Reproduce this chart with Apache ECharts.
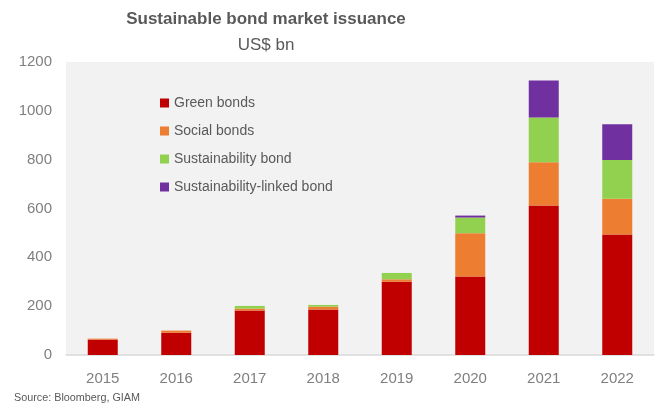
<!DOCTYPE html>
<html>
<head>
<meta charset="utf-8">
<script src="https://cdn.jsdelivr.net/npm/echarts@6/dist/echarts.min.js"></script>
<style>
  html, body { margin: 0; padding: 0; background: #ffffff; }
  #chart { width: 661px; height: 410px; }
</style>
</head>
<body>
<div id="chart"></div>
<script>
// Issuance by year, US$ bn
const years = ['2015', '2016', '2017', '2018', '2019', '2020', '2021', '2022'];
const greenBonds = [63, 91, 182, 186, 300, 321, 612, 494];
const socialBonds = [4, 9, 8, 12, 10, 178, 177, 146];
const sustainabilityBonds = [0, 0, 11, 7, 26, 64, 184, 159];
const linkedBonds = [0, 0, 0, 0, 0, 8, 151, 146];
const yTicks = [0, 200, 400, 600, 800, 1000, 1200];

const seriesDefs = [
  { name: 'Green bonds', data: greenBonds, color: '#c00000' },
  { name: 'Social bonds', data: socialBonds, color: '#ed7d31' },
  { name: 'Sustainability bond', data: sustainabilityBonds, color: '#92d050' },
  { name: 'Sustainability-linked bond', data: linkedBonds, color: '#7030a0' }
];

const FONT = '"Liberation Sans", Arial, sans-serif';
const chart = echarts.init(document.getElementById('chart'), null, { renderer: 'canvas' });

chart.setOption({
  animation: false,
  backgroundColor: '#ffffff',
  textStyle: { fontFamily: FONT },
  grid: {
    left: 66, right: 7, top: 62, bottom: 55,
    show: true, backgroundColor: '#f2f2f2', borderWidth: 0
  },
  graphic: [
    {
      type: 'text', x: 266, y: 11,
      style: {
        text: 'Sustainable bond market issuance',
        font: 'bold 17px ' + FONT, fill: '#595959',
        textAlign: 'center', textVerticalAlign: 'top'
      }
    },
    {
      type: 'text', x: 266, y: 37,
      style: {
        text: 'US$ bn', font: '17px ' + FONT, fill: '#595959',
        textAlign: 'center', textVerticalAlign: 'top'
      }
    },
    {
      type: 'text', x: 14, y: 393,
      style: { text: 'Source: Bloomberg, GIAM', font: '10.8px ' + FONT, fill: '#595959' }
    }
  ],
  legend: {
    orient: 'vertical',
    left: 155, top: 91,
    itemWidth: 9, itemHeight: 9, itemGap: 14,
    icon: 'rect',
    textStyle: { fontSize: 14, color: '#595959', fontFamily: FONT },
    data: seriesDefs.map(s => s.name)
  },
  xAxis: {
    type: 'category',
    data: years,
    axisLine: { show: true, lineStyle: { color: '#d9d9d9', width: 1.5 } },
    axisTick: { show: false },
    axisLabel: { fontSize: 15, color: '#7f7f7f', margin: 16, fontFamily: FONT }
  },
  yAxis: {
    type: 'value',
    min: yTicks[0], max: yTicks[yTicks.length - 1], interval: 200,
    splitLine: { show: false },
    axisLine: { show: false },
    axisTick: { show: false },
    axisLabel: {
      fontSize: 15, color: '#7f7f7f', margin: 14, fontFamily: FONT,
      formatter: v => String(v)
    }
  },
  series: seriesDefs.map(s => ({
    name: s.name,
    type: 'bar',
    stack: 'total',
    barWidth: 30,
    data: s.data,
    itemStyle: { color: s.color }
  }))
});
</script>
</body>
</html>
